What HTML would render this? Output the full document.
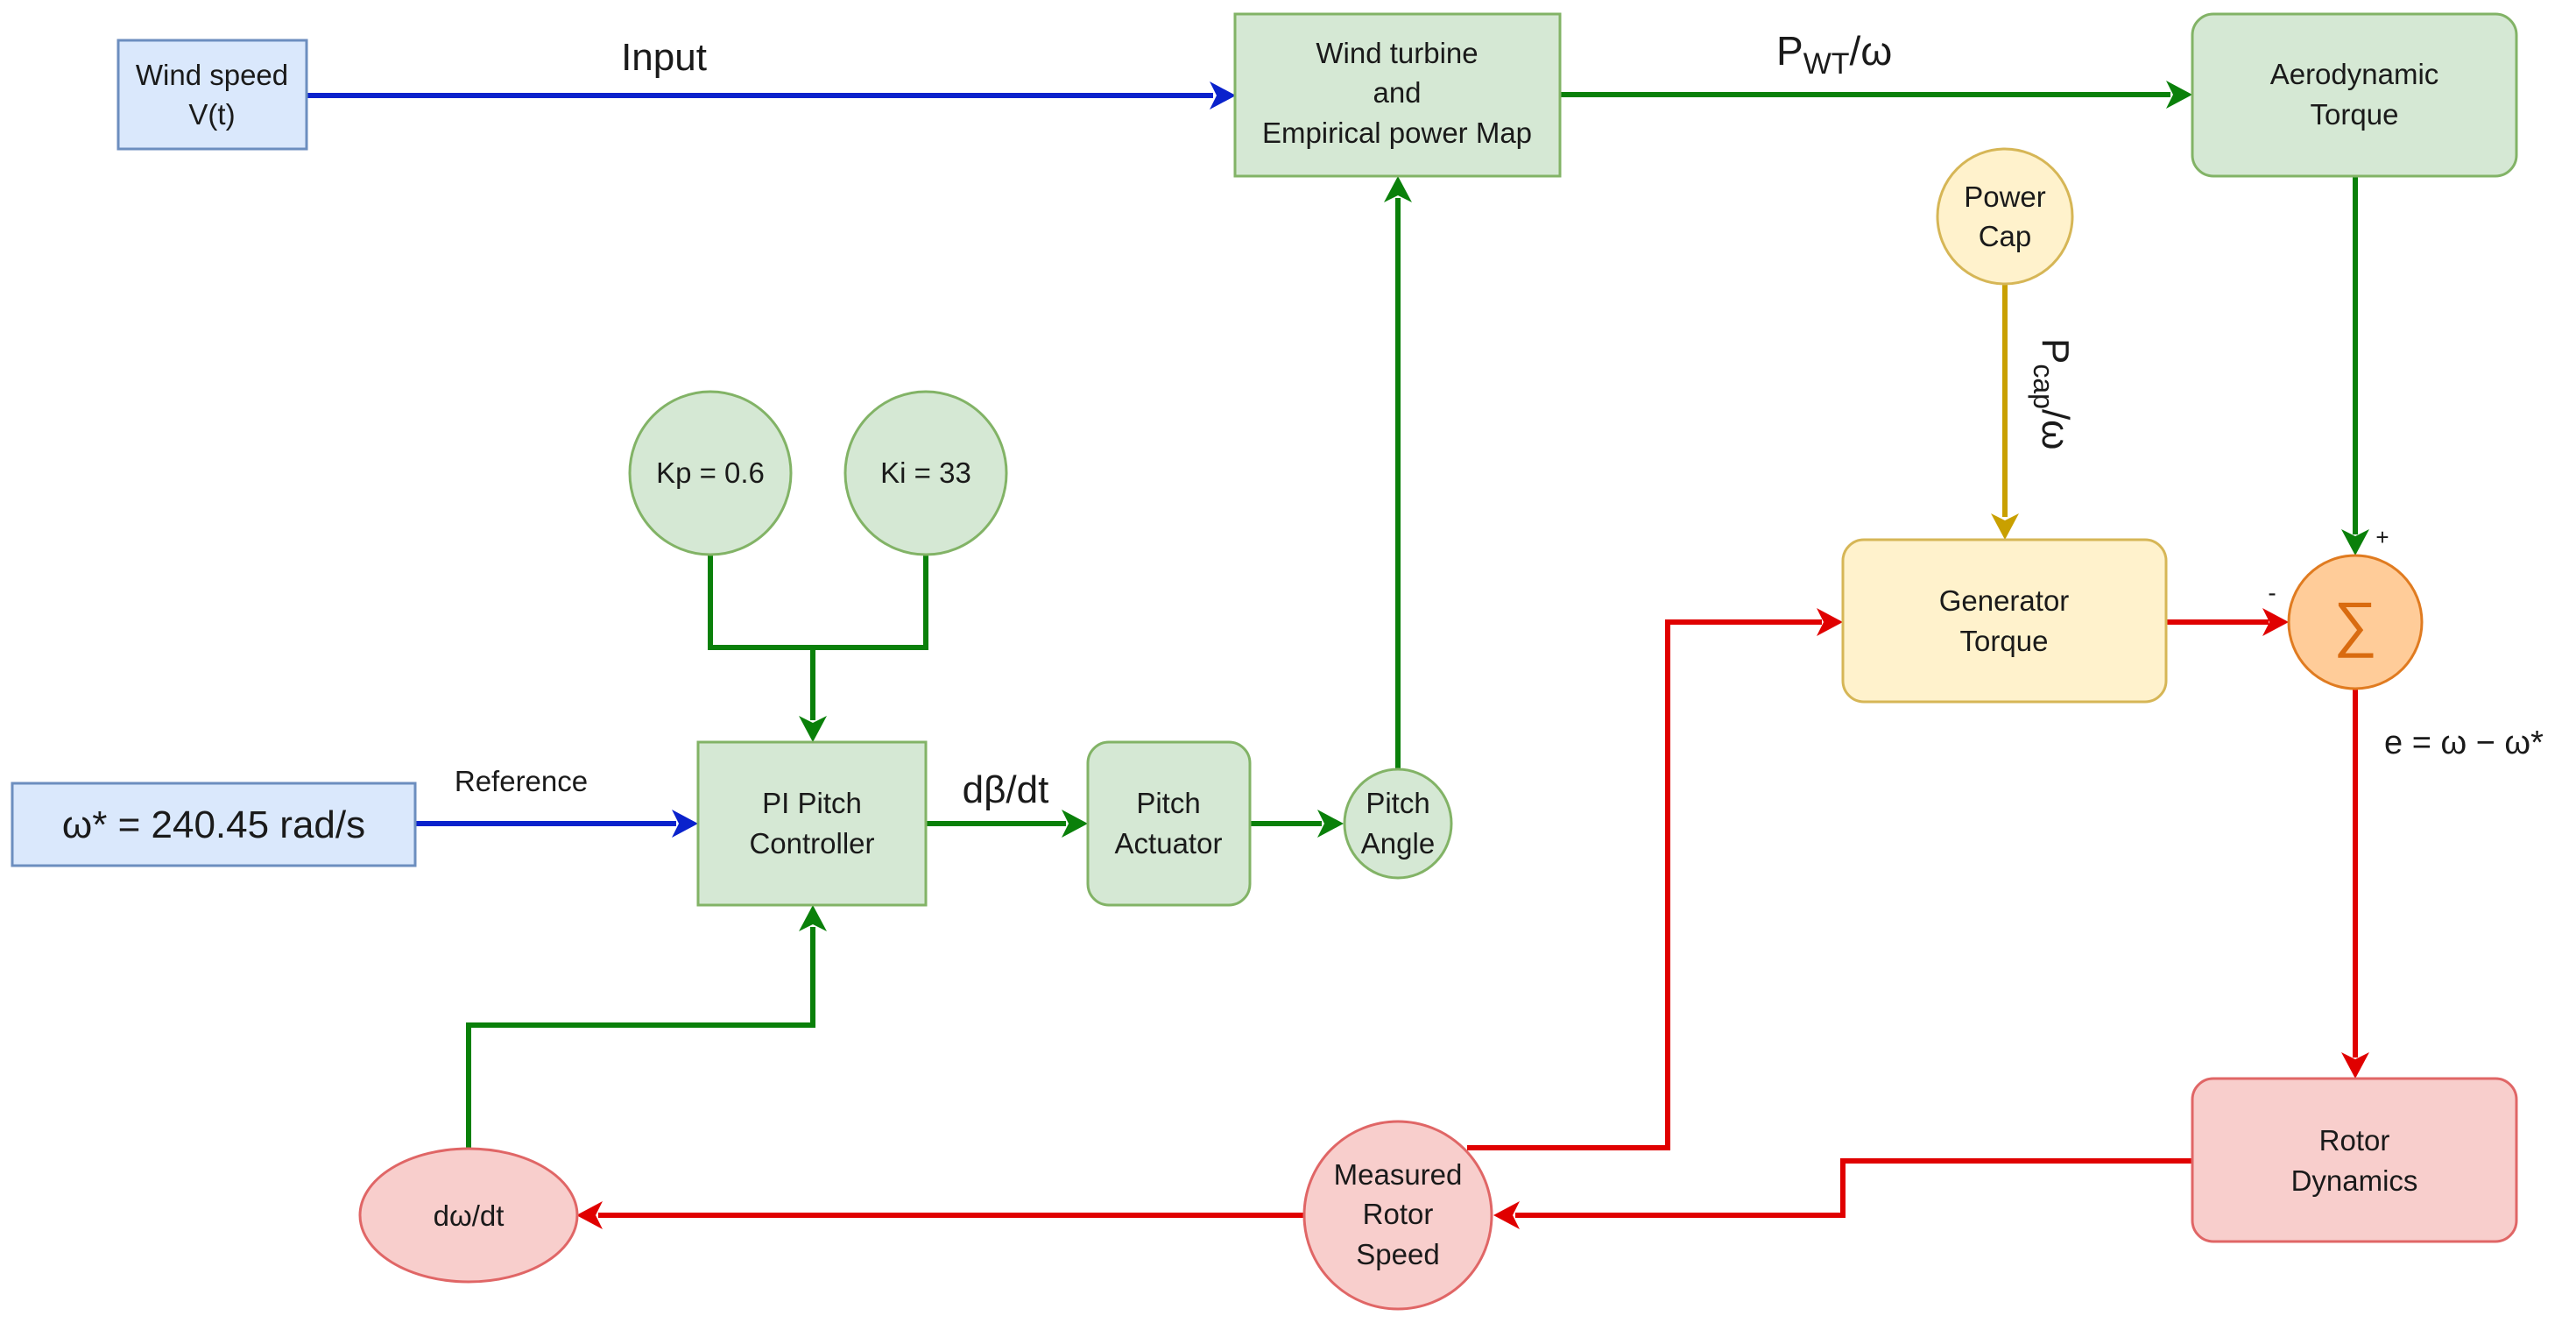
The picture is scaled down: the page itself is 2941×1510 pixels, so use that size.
<!DOCTYPE html>
<html><head><meta charset="utf-8"><style>
html,body{margin:0;padding:0;background:#fff;}
svg{display:block;}
text{font-family:"Liberation Sans",Arial,sans-serif;fill:#1a1a1a;}
</style></head><body>
<svg width="2941" height="1510" viewBox="0 0 2941 1510" xmlns="http://www.w3.org/2000/svg">
<g stroke-width="6" fill="none" stroke-linejoin="miter">
<path d="M350,109 H1385" stroke="#0a22cc"/>
<path d="M474,940 H772" stroke="#0a22cc"/>
<path d="M1781,108 H2478" stroke="#0a800a"/>
<path d="M811,633 V739 H1057 V633" stroke="#0a800a"/>
<path d="M928,739 V822" stroke="#0a800a"/>
<path d="M1057,940 H1217" stroke="#0a800a"/>
<path d="M1427,940 H1509" stroke="#0a800a"/>
<path d="M1596,878 V226" stroke="#0a800a"/>
<path d="M2689,201 V610" stroke="#0a800a"/>
<path d="M535,1311 V1170 H928 V1058" stroke="#0a800a"/>
<path d="M2289,325 V590" stroke="#c9a000"/>
<path d="M2473,710 H2590" stroke="#e00000"/>
<path d="M2689,786 V1207" stroke="#e00000"/>
<path d="M2503,1325 H2104 V1387 H1730" stroke="#e00000"/>
<path d="M1675,1310 H1904 V710 H2080" stroke="#e00000"/>
<path d="M1489,1387 H683" stroke="#e00000"/>
</g>
<g>
<path d="M1411,109 l-30,-16 l8,16 l-8,16 z" fill="#0a22cc"/>
<path d="M797,940 l-30,-16 l8,16 l-8,16 z" fill="#0a22cc"/>
<path d="M2503,108 l-30,-16 l8,16 l-8,16 z" fill="#0a800a"/>
<path d="M928,847 l-16,-30 l16,8 l16,-8 z" fill="#0a800a"/>
<path d="M1242,940 l-30,-16 l8,16 l-8,16 z" fill="#0a800a"/>
<path d="M1534,940 l-30,-16 l8,16 l-8,16 z" fill="#0a800a"/>
<path d="M1596,201 l-16,30 l16,-8 l16,8 z" fill="#0a800a"/>
<path d="M928,1033 l-16,30 l16,-8 l16,8 z" fill="#0a800a"/>
<path d="M2689,634 l-16,-30 l16,8 l16,-8 z" fill="#0a800a"/>
<path d="M2289,616 l-16,-30 l16,8 l16,-8 z" fill="#c9a000"/>
<path d="M2613,710 l-30,-16 l8,16 l-8,16 z" fill="#e00000"/>
<path d="M2689,1231 l-16,-30 l16,8 l16,-8 z" fill="#e00000"/>
<path d="M2104,710 l-30,-16 l8,16 l-8,16 z" fill="#e00000"/>
<path d="M1705,1387 l30,-16 l-8,16 l8,16 z" fill="#e00000"/>
<path d="M658,1387 l30,-16 l-8,16 l8,16 z" fill="#e00000"/>
</g>
<g stroke-width="3">
<rect x="135" y="46" width="215" height="124" fill="#dae8fc" stroke="#6c8ebf"/>
<rect x="14" y="894" width="460" height="94" fill="#dae8fc" stroke="#6c8ebf"/>
<rect x="1410" y="16" width="371" height="185" fill="#d5e8d4" stroke="#82b366"/>
<rect x="2503" y="16" width="370" height="185" rx="24" fill="#d5e8d4" stroke="#82b366"/>
<rect x="797" y="847" width="260" height="186" fill="#d5e8d4" stroke="#82b366"/>
<rect x="1242" y="847" width="185" height="186" rx="24" fill="#d5e8d4" stroke="#82b366"/>
<ellipse cx="811" cy="540" rx="92" ry="93" fill="#d5e8d4" stroke="#82b366"/>
<ellipse cx="1057" cy="540" rx="92" ry="93" fill="#d5e8d4" stroke="#82b366"/>
<ellipse cx="1596" cy="940" rx="61" ry="62" fill="#d5e8d4" stroke="#82b366"/>
<circle cx="2289" cy="247" r="77" fill="#fff2cc" stroke="#d6b656"/>
<rect x="2104" y="616" width="369" height="185" rx="24" fill="#fff2cc" stroke="#d6b656"/>
<circle cx="2689" cy="710" r="76" fill="#ffcc99" stroke="#e07b20"/>
<rect x="2503" y="1231" width="370" height="186" rx="24" fill="#f8cecc" stroke="#e06666"/>
<circle cx="1596" cy="1387" r="107" fill="#f8cecc" stroke="#e06666"/>
<ellipse cx="535" cy="1387" rx="124" ry="76" fill="#f8cecc" stroke="#e06666"/>
</g>
<g font-size="33" text-anchor="middle">
<text x="242" y="97">Wind speed</text>
<text x="242" y="142">V(t)</text>
<text x="1595" y="72">Wind turbine</text>
<text x="1595" y="117">and</text>
<text x="1595" y="163">Empirical power Map</text>
<text x="2688" y="96">Aerodynamic</text>
<text x="2688" y="142">Torque</text>
<text x="2289" y="236">Power</text>
<text x="2289" y="281">Cap</text>
<text x="2288" y="697">Generator</text>
<text x="2288" y="743">Torque</text>
<text x="2688" y="1313">Rotor</text>
<text x="2688" y="1359">Dynamics</text>
<text x="1596" y="1352">Measured</text>
<text x="1596" y="1397">Rotor</text>
<text x="1596" y="1443">Speed</text>
<text x="535" y="1399">dω/dt</text>
<text x="811" y="551">Kp = 0.6</text>
<text x="1057" y="551">Ki = 33</text>
<text x="927" y="928">PI Pitch</text>
<text x="927" y="974">Controller</text>
<text x="1334" y="928">Pitch</text>
<text x="1334" y="974">Actuator</text>
<text x="1596" y="928">Pitch</text>
<text x="1596" y="974">Angle</text>
<text x="595" y="903">Reference</text>
</g>
<text x="244" y="956" font-size="44" text-anchor="middle">ω* = 240.45 rad/s</text>
<text x="758" y="80" font-size="44" text-anchor="middle">Input</text>
<text x="1148" y="916" font-size="44" text-anchor="middle">dβ/dt</text>
<text x="2028" y="74" font-size="46">P<tspan font-size="34" dy="10">WT</tspan><tspan dy="-10">/ω</tspan></text>
<text transform="translate(2332,386) rotate(90)" font-size="44">P<tspan font-size="32" dy="10">cap</tspan><tspan dy="-10">/ω</tspan></text>
<text x="2689" y="736" font-size="70" text-anchor="middle" style="fill:#d96b10">∑</text>
<text x="2720" y="622" font-size="26" text-anchor="middle">+</text>
<text x="2594" y="686" font-size="28" text-anchor="middle">-</text>
<text x="2722" y="860" font-size="38">e = ω − ω*</text>
</svg>
</body></html>
